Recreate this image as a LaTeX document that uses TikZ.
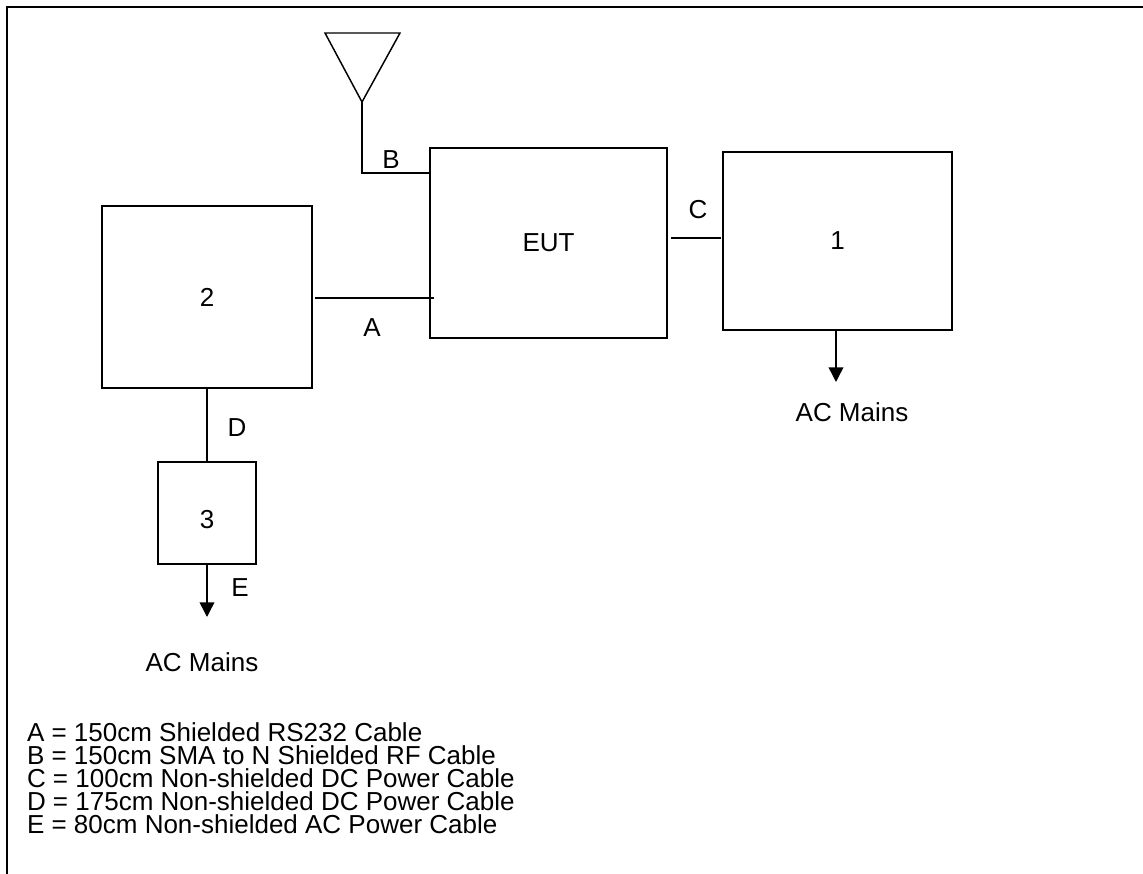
\documentclass[tikz,border=0pt]{standalone}
\usepackage{fontspec}
\setmainfont{Liberation Sans}
\usetikzlibrary{arrows.meta,calc}
\tikzset{
  txt/.style={inner sep=0pt, outer sep=0pt, font=\fontsize{19.5pt}{17.25pt}\selectfont},
  box/.style={draw, line width=1.1pt, inner sep=0pt, outer sep=0pt, txt},
  wire/.style={line width=1.1pt},
  mains/.style={wire, -{Triangle[width=11pt,length=11pt]}},
  frame/.style={line width=1.5pt}
}
\begin{document}
\begin{tikzpicture}[x=0.75pt,y=-0.75pt]
\useasboundingbox (0,0) rectangle (1143,874);
% open frame (left and top)
\coordinate (fbl) at (7,874);
\coordinate (ftl) at (7,7);
\coordinate (ftr) at (1143,7);
\draw[frame] (fbl) -- (ftl) -- (ftr);

% boxes
\node[box, minimum width=177.75pt, minimum height=142.5pt] (eut) at (548.5,243) {EUT};
\node[box, minimum width=171.75pt, minimum height=133.5pt] (b1) at (837.5,241) {1};
\node[box, minimum width=157.5pt, minimum height=136.5pt] (b2) at (207,297) {2};
\node[box, minimum width=73.5pt, minimum height=76.5pt] (b3) at (207,513) {};
\node[txt] (t3) at (207,520) {3};

% antenna
\coordinate (antl) at (325,33);
\coordinate (antr) at (400,33);
\coordinate (apex) at (362,102);
\draw[wire, line join=miter] (antl) -- (antr) -- (apex) -- cycle;

% cable B
\coordinate (bend) at ($(eut.north west)+(0,25)$);
\coordinate (bdown) at ($(eut.north west)+(0,95)$);
\draw[wire] (apex) |- (bend) -- (bdown);
\node[txt] (lB) at (391,160) {B};

% cable A
\coordinate (aS) at ($(b2.east)+(3,1)$);
\coordinate (aE) at ($(eut.west |- aS)+(4,0)$);
\draw[wire] (aS) -- (aE);
\node[txt] (lA) at (372,328) {A};

% cable C
\coordinate (cS) at ($(eut.east)+(4,-5)$);
\coordinate (cE) at ($(b1.west |- cS)+(-2,0)$);
\draw[wire] (cS) -- (cE);
\node[txt] (lC) at (698,210) {C};

% cable D
\draw[wire] (b2.south) -- (b3.north);
\node[txt] (lD) at (237,428) {D};

% cable E and mains
\coordinate (eTip) at ($(b3.south)+(0,53)$);
\draw[mains] (b3.south) -- (eTip);
\node[txt] (lE) at (240,588) {E};
\node[txt] (m3) at (202,662) {AC Mains};

\coordinate (m1S) at ($(b1.south)+(-1.5,0)$);
\coordinate (m1Tip) at ($(m1S)+(0,52)$);
\draw[mains] (m1S) -- (m1Tip);
\node[txt] (m1) at (852,412) {AC Mains};

% legend
\node[txt, anchor=north west, align=left] (legend) at (27,723) {%
A = 150cm Shielded RS232 Cable\\
B = 150cm SMA to N Shielded RF Cable\\
C = 100cm Non-shielded DC Power Cable\\
D = 175cm Non-shielded DC Power Cable\\
E = 80cm Non-shielded AC Power Cable};
\end{tikzpicture}
\end{document}
